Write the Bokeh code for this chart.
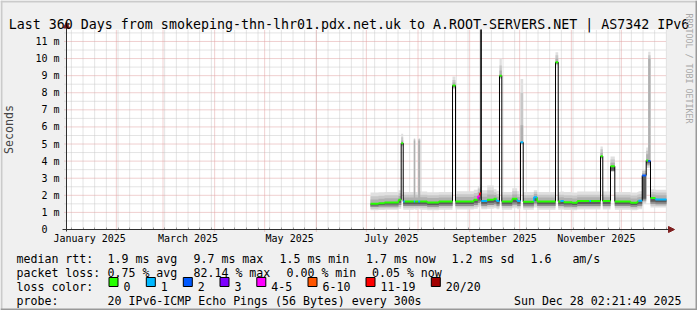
import math
import numpy as np
import pandas as pd
from bokeh.plotting import figure
from bokeh.models import FixedTicker, Label, BoxAnnotation, Arrow, NormalHead, Range1d
from bokeh.embed import file_html
from bokeh.resources import INLINE

FONT = "DejaVu Sans Mono"
NB = "\u00a0"

# ---------------- texts ----------------
title_text = "Last 360 Days from smokeping-thn-lhr01.pdx.net.uk to A.ROOT-SERVERS.NET | AS7342 IPv6"
watermark_text = "RRDTOOL / TOBI OETIKER"
y_axis_title = "Seconds"

t_start = "2025-01-02 02:21:49"
t_end = "2025-12-28 02:21:49"
y_top = 11.7

month_label_dates = ["2025-01-16", "2025-03-16", "2025-05-16", "2025-07-16", "2025-09-16", "2025-11-16"]
month_labels = ["January 2025", "March 2025", "May 2025", "July 2025", "September 2025", "November 2025"]
month_starts = ["2025-02-01", "2025-03-01", "2025-04-01", "2025-05-01", "2025-06-01", "2025-07-01",
                "2025-08-01", "2025-09-01", "2025-10-01", "2025-11-01", "2025-12-01"]
y_ticks = [0, 1, 2, 3, 4, 5, 6, 7, 8, 9, 10, 11]
y_tick_labels = ["0" + NB + NB, "1 m", "2 m", "3 m", "4 m", "5 m", "6 m", "7 m", "8 m", "9 m", "10 m", "11 m"]

# ---------------- measurements (bins) ----------------
edges = ["2025-07-03 12:00", "2025-07-08 07:00", "2025-07-11 22:00", "2025-07-20 07:00",
         "2025-07-21 22:00", "2025-07-23 03:00", "2025-07-24 02:00", "2025-07-29 11:30",
         "2025-07-30 07:40", "2025-08-01 03:00", "2025-08-02 07:40", "2025-08-06 12:30",
         "2025-08-13 11:30", "2025-08-21 17:00", "2025-08-23 12:00", "2025-09-03 11:30",
         "2025-09-05 21:00", "2025-09-07 02:00", "2025-09-07 17:00", "2025-09-07 23:00",
         "2025-09-11 12:30", "2025-09-15 11:30", "2025-09-17 02:30", "2025-09-18 21:30",
         "2025-09-20 06:40", "2025-09-26 12:30", "2025-09-29 12:30", "2025-10-01 12:00",
         "2025-10-03 03:00", "2025-10-09 11:30", "2025-10-11 12:30", "2025-10-22 12:00",
         "2025-10-24 03:00", "2025-10-25 12:00", "2025-10-27 11:30", "2025-11-01 12:30",
         "2025-11-04 12:30", "2025-11-11 21:30", "2025-11-12 19:00", "2025-11-18 12:00",
         "2025-11-19 21:00", "2025-11-24 12:00", "2025-11-27 02:00", "2025-12-06 12:00",
         "2025-12-10 12:30", "2025-12-11 07:00", "2025-12-13 12:30", "2025-12-15 22:00",
         "2025-12-17 03:00", "2025-12-18 12:00", "2025-12-21 12:00", "2025-12-28 02:20"]

median_ms = [1.50, 1.54, 1.58, 1.74, 5.05, 1.64, 1.64, 1.64, 1.64, 1.64,
             1.64, 1.58, 1.64, 8.43, 1.64, 1.74, 1.95, 2.12, 15.0, 1.66,
             1.74, 1.80, 1.66, 9.00, 1.64, 1.80, 1.66, 5.10, 1.62, 1.89,
             1.64, 9.79, 1.64, 1.66, 1.60, 1.56, 1.66, 1.66, 1.66, 4.29,
             1.66, 3.70, 1.64, 1.56, 1.64, 1.68, 3.16, 4.04, 4.00, 1.84,
             1.76]
loss_count = [0, 0, 0, 0, 0, 1, 0, 1, 0, 1,
              0, 0, 0, 0, 0, 0, 4, 12, 0, 1,
              0, 0, 1, 0, 0, 0, 1, 1, 0, 1,
              0, 0, 0, 1, 0, 0, 0, 1, 0, 0,
              0, 0, 0, 0, 0, 1, 2, 0, 2, 0,
              1]
smoke_min = [1.12, 1.14, 1.15, 1.22, 4.85, 1.16, 1.16, 1.18, 1.16, 1.18,
             1.16, 1.13, 1.16, 8.20, 1.17, 1.22, 1.30, 1.35, 14.5, 1.18,
             1.22, 1.25, 1.18, 8.80, 1.16, 1.24, 1.18, 4.95, 1.15, 1.28,
             1.16, 9.60, 1.16, 1.17, 1.14, 1.12, 1.17, 1.17, 1.17, 4.10,
             1.17, 3.38, 1.16, 1.12, 1.16, 1.18, 1.50, 3.60, 3.60, 1.28,
             1.28]
smoke_p10 = [1.22, 1.24, 1.25, 1.32, 4.90, 1.27, 1.27, 1.28, 1.27, 1.28,
             1.27, 1.23, 1.27, 8.25, 1.28, 1.33, 1.42, 1.48, 14.6, 1.29,
             1.33, 1.36, 1.29, 8.85, 1.27, 1.35, 1.28, 5.00, 1.26, 1.40,
             1.27, 9.65, 1.27, 1.28, 1.25, 1.23, 1.28, 1.28, 1.28, 4.15,
             1.28, 3.40, 1.27, 1.23, 1.27, 1.29, 1.60, 3.70, 3.70, 1.39,
             1.38]
smoke_p25 = [1.32, 1.34, 1.35, 1.44, 4.95, 1.37, 1.37, 1.38, 1.37, 1.38,
             1.37, 1.33, 1.37, 8.30, 1.38, 1.44, 1.55, 1.62, 14.7, 1.39,
             1.44, 1.47, 1.39, 8.90, 1.37, 1.46, 1.38, 5.03, 1.36, 1.52,
             1.37, 9.70, 1.37, 1.38, 1.35, 1.33, 1.38, 1.38, 1.38, 4.20,
             1.38, 3.42, 1.37, 1.33, 1.37, 1.39, 1.70, 3.80, 3.80, 1.50,
             1.48]
smoke_p40 = [1.41, 1.44, 1.46, 1.56, 5.00, 1.48, 1.48, 1.48, 1.48, 1.48,
             1.48, 1.44, 1.48, 8.37, 1.49, 1.56, 1.70, 1.80, 14.8, 1.50,
             1.56, 1.60, 1.50, 8.95, 1.48, 1.60, 1.50, 5.06, 1.47, 1.66,
             1.48, 9.75, 1.48, 1.49, 1.46, 1.43, 1.49, 1.49, 1.49, 4.25,
             1.49, 3.45, 1.48, 1.43, 1.48, 1.50, 1.80, 3.90, 3.90, 1.63,
             1.60]
smoke_p75 = [1.76, 1.80, 1.83, 1.96, 5.20, 1.87, 1.87, 5.20, 1.87, 5.20,
             1.88, 1.84, 1.87, 8.60, 1.90, 1.98, 2.20, 2.35, 15.2, 1.92,
             2.05, 2.02, 1.92, 9.30, 1.87, 2.05, 1.90, 6.10, 1.86, 2.08,
             1.87, 10.00, 1.87, 1.88, 1.85, 1.82, 1.88, 1.88, 1.88, 4.50,
             1.88, 3.90, 1.87, 1.82, 1.87, 1.90, 3.30, 4.40, 10.00, 2.05,
             2.00]
smoke_p90 = [1.94, 1.97, 2.00, 2.12, 5.40, 2.03, 2.03, 5.30, 2.03, 5.30,
             2.04, 2.00, 2.03, 8.75, 2.06, 2.14, 2.40, 2.50, 15.4, 2.10,
             2.30, 2.18, 2.08, 9.60, 2.03, 2.24, 2.06, 8.00, 2.02, 2.20,
             2.03, 10.20, 2.03, 2.04, 2.01, 1.99, 2.04, 2.04, 2.04, 4.70,
             2.04, 4.10, 2.03, 1.99, 2.03, 2.06, 3.42, 4.60, 10.20, 2.20,
             2.16]
smoke_max = [2.16, 2.18, 2.20, 2.30, 5.60, 2.20, 2.20, 5.34, 2.20, 5.34,
             2.22, 2.18, 2.20, 8.95, 2.24, 2.32, 2.55, 2.65, 15.6, 2.30,
             2.57, 2.36, 2.26, 10.00, 2.20, 2.42, 2.24, 8.80, 2.20, 2.30,
             2.20, 10.37, 2.20, 2.22, 2.19, 2.17, 2.22, 2.22, 2.22, 4.86,
             2.22, 4.27, 2.20, 2.17, 2.20, 2.24, 3.50, 4.80, 10.40, 2.36,
             2.32]

loss_levels = ["0", "1", "2", "3", "4-5", "6-10", "11-19", "20/20"]
loss_upper = [0, 1, 2, 3, 5, 10, 19, 20]
loss_colors = ["#26ff00", "#00b8ff", "#0059ff", "#7e00ff", "#ff00ff", "#ff5500", "#ff0000", "#a10000"]

stats_row1 = [("median rtt:", 16), ("1.9 ms avg", 107), ("9.7 ms max", 193), ("1.5 ms min", 279),
              ("1.7 ms now", 365.5), ("1.2 ms sd", 451), ("1.6" + NB * 3 + "am/s", 530)]
stats_row2 = [("packet loss:", 16), ("0.75 % avg", 107), ("82.14 % max", 193), ("0.00 % min", 286),
              ("0.05 % now", 371.5)]
row3_head = "loss color:"
probe_row = [("probe:", 16), ("20 IPv6-ICMP Echo Pings (56 Bytes) every 300s", 107)]
stamp_text = "Sun Dec 28 02:21:49 2025"

# ---------------- layout ----------------
W, H = 697, 310
PL, PR, PT, PB = 66, 666, 29, 229          # graph area inside the canvas (pixels)


def ms(s):
    return int(pd.Timestamp(s).value // 1_000_000)


t0, t1 = ms(t_start), ms(t_end)
kx = (t1 - t0) / (PR - PL)                 # ms per pixel
ky = y_top / (PB - PT)                     # value per pixel

# the frame spans the whole canvas; the data area is mapped to PL..PR / PT..PB
p = figure(width=W, height=H, x_axis_type="datetime",
           x_range=Range1d(t0 - PL * kx, t1 + (W - PR) * kx),
           y_range=Range1d(-(H - PB) * ky, y_top + PT * ky),
           output_backend="svg", toolbar_location=None, title=None,
           min_border=0, min_border_left=0, min_border_right=0,
           min_border_top=0, min_border_bottom=0)
p.background_fill_color = "#f0f0f0"
p.border_fill_color = "#f0f0f0"
p.outline_line_color = None
p.grid.visible = False

p.quad(left=[t0], right=[t1], bottom=[0], top=[y_top], fill_color="white", line_color=None)

# grid lines (dotted), drawn from the tick lists
week_ticks = [int(v.value // 1_000_000) for v in pd.date_range("2025-01-05", "2025-12-28", freq="7D")]
week_ticks = [w for w in week_ticks if t0 < w < t1]
month_ticks = [ms(s) for s in month_starts]
y_minor = [v + 0.5 for v in y_ticks]
ext = 2 * kx
p.segment(x0=week_ticks, y0=0, x1=week_ticks, y1=y_top, line_color="#c8c8c8", line_dash="1 1", line_width=1)
p.segment(x0=t0 - ext, y0=y_minor, x1=t1, y1=y_minor, line_color="#c8c8c8", line_dash="1 1", line_width=1)
p.segment(x0=month_ticks, y0=-2 * ky, x1=month_ticks, y1=y_top, line_color="#e0a0a0", line_dash="1 1", line_width=1)
p.segment(x0=t0 - ext, y0=y_ticks[1:], x1=t1, y1=y_ticks[1:], line_color="#e0a0a0", line_dash="1 1", line_width=1)

# x axis (fixed at y = 0)
lab_ms = [ms(s) for s in month_label_dates]
xa = p.xaxis[0]
xa.fixed_location = 0
xa.bounds = (t0, t1)
xa.ticker = FixedTicker(ticks=lab_ms, minor_ticks=week_ticks)
xa.major_label_overrides = {k: v for k, v in zip(lab_ms, month_labels)}
xa.axis_line_color = None
xa.major_tick_line_color = None
xa.major_tick_out = 0
xa.major_tick_in = 0
xa.minor_tick_line_color = "#999999"
xa.minor_tick_in = 2
xa.minor_tick_out = 0
xa.major_label_standoff = 3
xa.major_label_text_font = FONT
xa.major_label_text_font_size = "10px"
xa.major_label_text_color = "black"

# y axis (fixed at the start time)
ya = p.yaxis[0]
ya.fixed_location = t0
ya.bounds = (0, y_top)
ya.ticker = FixedTicker(ticks=y_ticks)
ya.major_label_overrides = {k: v for k, v in zip(y_ticks, y_tick_labels)}
ya.axis_line_color = None
ya.major_tick_line_color = None
ya.minor_tick_line_color = None
ya.major_tick_out = 2
ya.major_tick_in = 0
ya.major_label_standoff = 5
ya.major_label_text_font = FONT
ya.major_label_text_font_size = "10px"
ya.major_label_text_color = "black"
ya.axis_label = y_axis_title
ya.axis_label_text_font = FONT
ya.axis_label_text_font_size = "11.6px"
ya.axis_label_text_font_style = "normal"
ya.axis_label_standoff = 16

# ---------------- data drawing ----------------
e = np.array([ms(s) for s in edges], dtype=float)
xs = np.repeat(e, 2)[1:-1]
med = np.array(median_ms)


def shown(v):
    return np.minimum(np.array(v, dtype=float), y_top)


def band(lo, hi, color):
    p.varea(x=xs, y1=np.repeat(shown(lo), 2), y2=np.repeat(shown(hi), 2),
            fill_color=color, fill_alpha=1.0)


band(smoke_min, smoke_max, "#e0e0e0")
band(smoke_p10, smoke_p90, "#c8c8c8")
band(smoke_p25, smoke_p75, "#b0b0b0")
band(smoke_p25, median_ms, "#8e8e8e")
band(smoke_p40, median_ms, "#5c5c5c")


def lcolor(n):
    for up, c in zip(loss_upper, loss_colors):
        if n <= up:
            return c
    return loss_colors[-1]


cols = [lcolor(n) for n in loss_count]
med_s = shown(med)

bx, by0, by1, sx, sy0, sy1, sc = [], [], [], [], [], [], []
for i in range(1, len(med)):
    if max(med[i - 1], med[i]) > 2.5:
        bx.append(e[i]); by0.append(med_s[i - 1]); by1.append(med_s[i])
    else:
        sx.append(e[i]); sy0.append(med_s[i - 1]); sy1.append(med_s[i]); sc.append(cols[i])
p.segment(x0=sx, y0=sy0, x1=sx, y1=sy1, line_color=sc, line_width=1.5)
p.segment(x0=bx, y0=by0, x1=bx, y1=by1, line_color="black", line_width=1)
vis = med < y_top
p.segment(x0=e[:-1][vis], y0=med[vis], x1=e[1:][vis], y1=med[vis],
          line_color=[c for c, v in zip(cols, vis) if v], line_width=2)

# axis lines with arrows
p.add_layout(Arrow(end=NormalHead(size=6, fill_color="#7f1f1f", line_color="#7f1f1f", line_width=1),
                   x_start=t0, y_start=-2 * ky, x_end=t0, y_end=y_top + 7.5 * ky,
                   line_color="#303030", line_width=1))
p.add_layout(Arrow(end=NormalHead(size=6, fill_color="#7f1f1f", line_color="#7f1f1f", line_width=1),
                   x_start=t0 - 4 * kx, y_start=0, x_end=t1 + 8 * kx, y_end=0,
                   line_color="#303030", line_width=1))


# ---------------- page decorations (canvas pixel helpers) ----------------
def clabel(text, X, Y, size="11.6px", color="black", align="left", baseline="alphabetic", angle=0.0):
    p.add_layout(Label(x=X, y=H - Y, x_units="screen", y_units="screen", text=text,
                       text_font=FONT, text_font_size=size, text_color=color,
                       text_align=align, text_baseline=baseline, angle=angle))


def cbox(X0, Y0, X1, Y1, fill, line=None):
    p.add_layout(BoxAnnotation(left=X0, right=X1, top=H - Y0, bottom=H - Y1,
                               left_units="screen", right_units="screen",
                               top_units="screen", bottom_units="screen",
                               fill_color=fill, fill_alpha=1.0,
                               line_color=line if line else "black", line_width=1,
                               line_alpha=1.0 if line else 0.0))


cbox(0, 0, W, 2, "#cbcbcb")
cbox(0, 0, 2, H, "#cbcbcb")
cbox(0, H - 2, W, H, "#999999")
cbox(W - 2, 0, W, H, "#999999")

clabel(title_text, 348.5, 24.3, size="13.3px", align="center")
clabel(watermark_text, 688, 13, size="8.3px", color="#a8a8a8", baseline="middle", angle=-math.pi / 2)

for txt, X in stats_row1:
    clabel(txt, X, 258.5)
for txt, X in stats_row2:
    clabel(txt, X, 272.4)
clabel(row3_head, 16, 286.3)
sq_left = [108.5, 145.8, 182.8, 219.5, 256.3, 307.5, 365.5, 430.8]
for X, c, txt in zip(sq_left, loss_colors, loss_levels):
    cbox(X, 277, X + 9, 286, c, line="black")
    clabel(txt, X + 14.5, 286.3)
for txt, X in probe_row:
    clabel(txt, X, 300.2)
clabel(stamp_text, 681, 300.2, align="right")

open("out.html", "w").write(file_html(p, INLINE))
